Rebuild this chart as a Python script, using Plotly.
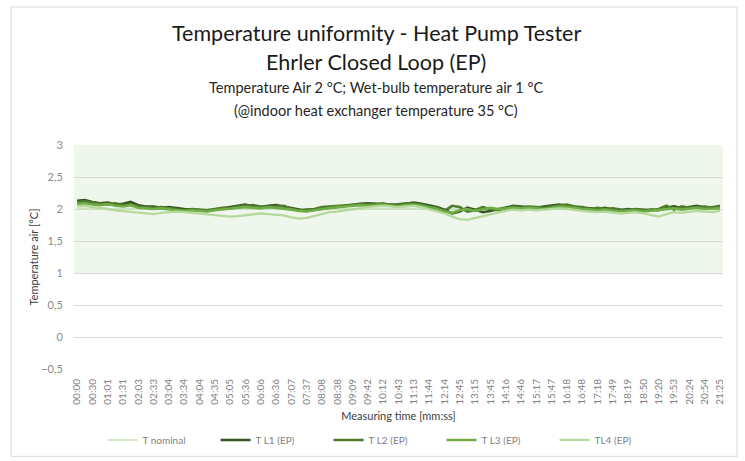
import plotly.graph_objects as go

TIME_LABELS = ["00:00", "00:30", "01:01", "01:31", "02:03", "02:33", "03:04", "03:34", "04:04", "04:35",
               "05:05", "05:36", "06:06", "06:36", "07:07", "07:37", "08:08", "08:38", "09:09", "09:42",
               "10:12", "10:43", "11:13", "11:44", "12:14", "12:45", "13:15", "13:45", "14:16", "14:46",
               "15:17", "15:47", "16:18", "16:48", "17:18", "17:49", "18:19", "18:50", "19:20", "19:53",
               "20:24", "20:54", "21:25"]

# samples every half label interval
T_NOMINAL_VALUE = 2.0

T_L1 = [2.13, 2.14, 2.11, 2.09, 2.10, 2.07, 2.08, 2.11, 2.06, 2.04,
        2.04, 2.02, 2.03, 2.01, 2.00, 1.99, 1.98, 1.97, 1.99, 2.01,
        2.03, 2.05, 2.07, 2.04, 2.03, 2.05, 2.06, 2.04, 2.02, 2.00,
        1.97, 1.99, 2.01, 2.02, 2.03, 2.05, 2.07, 2.08, 2.09, 2.08,
        2.08, 2.07, 2.06, 2.08, 2.10, 2.08, 2.06, 2.03, 1.99, 1.93,
        1.96, 2.02, 1.99, 1.95, 1.97, 2.00, 2.03, 2.05, 2.04, 2.03,
        2.02, 2.04, 2.05, 2.07, 2.05, 2.03, 2.02, 2.01, 2.00, 2.02,
        1.99, 1.98, 2.00, 1.98, 1.97, 1.99, 1.98, 2.02, 2.04, 2.01,
        2.03, 2.05, 2.02, 2.03, 2.04]

T_L2 = [2.11, 2.12, 2.10, 2.08, 2.07, 2.09, 2.06, 2.07, 2.04, 2.03,
        2.02, 2.03, 2.01, 1.99, 1.98, 2.00, 1.99, 1.98, 2.00, 2.02,
        2.01, 2.04, 2.05, 2.06, 2.04, 2.03, 2.04, 2.05, 2.00, 1.98,
        1.99, 2.00, 2.03, 2.04, 2.05, 2.06, 2.06, 2.07, 2.08, 2.07,
        2.09, 2.06, 2.07, 2.09, 2.08, 2.07, 2.04, 2.02, 1.97, 2.05,
        2.03, 1.96, 1.98, 2.03, 2.00, 1.98, 2.01, 2.04, 2.02, 2.04,
        2.03, 2.02, 2.04, 2.06, 2.07, 2.04, 2.03, 2.00, 2.02, 2.00,
        2.01, 1.99, 1.98, 2.00, 1.99, 1.98, 2.00, 2.05, 1.99, 2.04,
        2.02, 2.03, 2.04, 2.02, 2.05]

T_L3 = [2.08, 2.09, 2.07, 2.06, 2.08, 2.05, 2.04, 2.06, 2.02, 2.01,
        2.00, 2.01, 1.99, 1.98, 1.97, 1.98, 1.97, 1.96, 1.98, 1.99,
        2.00, 2.02, 2.03, 2.02, 2.01, 2.03, 2.02, 2.01, 1.99, 1.97,
        1.96, 1.98, 2.00, 2.01, 2.03, 2.04, 2.05, 2.06, 2.05, 2.06,
        2.07, 2.05, 2.04, 2.06, 2.07, 2.05, 2.03, 2.00, 1.96, 1.94,
        1.98, 2.00, 1.97, 1.99, 2.02, 2.00, 2.01, 2.02, 2.01, 2.02,
        2.01, 2.00, 2.02, 2.04, 2.03, 2.01, 2.00, 1.99, 1.98, 1.99,
        1.97, 1.96, 1.97, 1.98, 1.96, 1.97, 1.98, 2.00, 2.01, 1.99,
        2.00, 2.02, 2.00, 2.01, 2.01]

T_L4 = [2.04, 2.05, 2.03, 2.02, 2.00, 1.98, 1.97, 1.95, 1.94, 1.93,
        1.92, 1.94, 1.95, 1.96, 1.95, 1.94, 1.93, 1.92, 1.90, 1.89,
        1.88, 1.89, 1.90, 1.91, 1.93, 1.92, 1.91, 1.90, 1.87, 1.85,
        1.86, 1.89, 1.93, 1.95, 1.96, 1.98, 2.00, 2.02, 2.03, 2.04,
        2.05, 2.04, 2.03, 2.04, 2.05, 2.03, 2.00, 1.97, 1.93, 1.88,
        1.84, 1.83, 1.86, 1.89, 1.92, 1.95, 1.97, 1.99, 1.98, 1.99,
        1.98, 1.99, 2.00, 2.01, 2.00, 1.98, 1.97, 1.96, 1.95, 1.96,
        1.94, 1.93, 1.94, 1.95, 1.93, 1.91, 1.88, 1.92, 1.95, 1.94,
        1.95, 1.97, 1.96, 1.95, 1.97]

SERIES_NAMES = ["T nominal", "T L1 (EP)", "T L2 (EP)", "T L3 (EP)", "TL4 (EP)"]
BAND_LOW, BAND_HIGH = 1.0, 3.0
Y_TICKS = [-0.5, 0, 0.5, 1, 1.5, 2, 2.5, 3]

n = len(T_L1)
x = [i / 2 for i in range(n)]
nominal = [T_NOMINAL_VALUE] * n

COLORS = ["#C5E0B4", "#375623", "#4F7A2C", "#70AD47", "#B5D99C"]
WIDTHS = [1.5, 2.6, 2.6, 2.6, 2.3]

fig = go.Figure()
for name, ys, c, w in zip(SERIES_NAMES, [nominal, T_L1, T_L2, T_L3, T_L4], COLORS, WIDTHS):
    fig.add_trace(go.Scatter(x=x, y=ys, mode="lines", name=name,
                             line=dict(color=c, width=w)))

FONT = "Lato, 'Open Sans', sans-serif"

fig.update_layout(
    width=745, height=461,
    margin=dict(l=74, r=22, t=145, b=92, autoexpand=False),
    paper_bgcolor="white", plot_bgcolor="white",
    separators=", ",
    font=dict(family=FONT, color="#595959"),
    showlegend=True,
    legend=dict(orientation="h", x=0.044, xanchor="left", y=-0.252, yanchor="top",
                font=dict(size=10, color="#7f7f7f"), entrywidth=68, entrywidthmode="pixels",
                bgcolor="rgba(0,0,0,0)", itemwidth=30),
    xaxis=dict(range=[-0.2, 42.2], tickmode="array", tickvals=list(range(len(TIME_LABELS))),
               ticktext=TIME_LABELS, tickangle=-90, showgrid=False, zeroline=False, automargin=False,
               tickfont=dict(size=10, color="#7f7f7f"), ticks="outside", ticklen=5, tickcolor="rgba(0,0,0,0)",
               showline=False,
               title=dict(text="Measuring time [mm:ss]", font=dict(size=11, color="#404040"), standoff=8)),
    yaxis=dict(range=[-0.5, 3.0], tickmode="array", tickvals=Y_TICKS, automargin=False,
               showgrid=True, gridcolor="#d9d9d9", gridwidth=1, zeroline=False,
               tickfont=dict(size=11, color="#8c8c8c"), ticks="outside", ticklen=8, tickcolor="rgba(0,0,0,0)",
               title=dict(text="Temperature air [°C]", font=dict(size=11, color="#404040"), standoff=0)),
)

fig.add_hrect(y0=BAND_LOW, y1=BAND_HIGH, fillcolor="#E2EFDA", opacity=0.55, line_width=0, layer="below")

# chart border
fig.add_shape(type="rect", xref="paper", yref="paper", x0=-0.097, x1=1.0216, y0=-0.39, y1=1.616,
              line=dict(color="#d9d9d9", width=1), fillcolor="rgba(0,0,0,0)", layer="below")

titles = [("Temperature uniformity - Heat Pump Tester", 21.5, 33, "#1a1a1a"),
          ("Ehrler Closed Loop (EP)", 21.5, 62, "#1a1a1a"),
          ("Temperature Air 2 °C; Wet-bulb temperature air 1 °C", 14.5, 88, "#262626"),
          ("(@indoor heat exchanger temperature 35 °C)", 14.5, 110, "#262626")]
for txt, sz, ypx, col in titles:
    fig.add_annotation(text=txt, xref="paper", yref="paper",
                       x=(376 - 74) / 649, y=(369 - ypx) / 224, xanchor="center", yanchor="middle",
                       showarrow=False, font=dict(size=sz, color=col, family=FONT))

fig.write_html("out.html", config={"displayModeBar": False},
               post_script="document.body.style.margin='0';")
